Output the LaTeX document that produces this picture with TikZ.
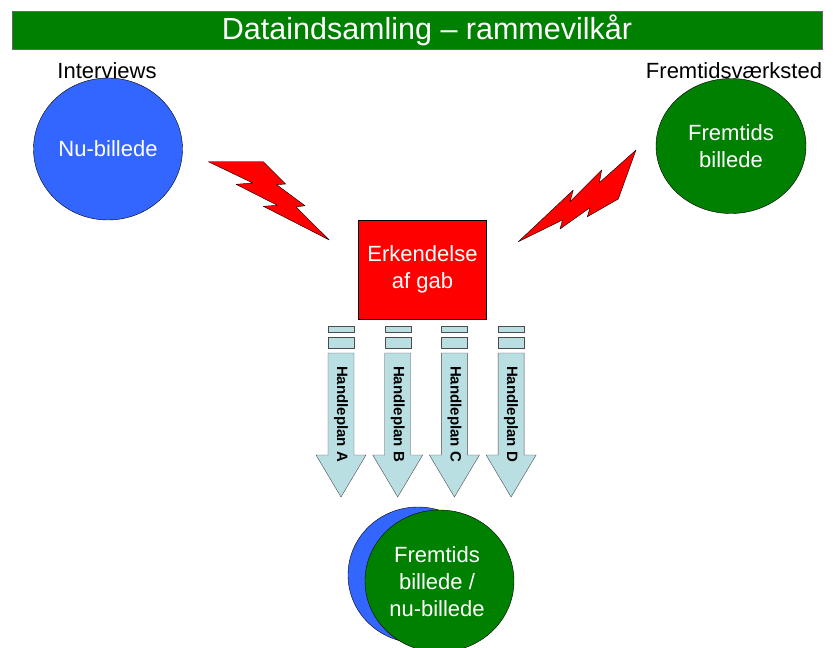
\documentclass[tikz,border=0pt]{standalone}
\usepackage{fontspec}
\setmainfont{Liberation Sans}
\usetikzlibrary{shapes.geometric}
\definecolor{nublue}{HTML}{3366FF}
\definecolor{futgreen}{HTML}{008000}
\definecolor{gabred}{HTML}{FF0000}
\definecolor{planfill}{HTML}{B9DFE3}
\begin{document}
\begin{tikzpicture}[x=1pt,y=-1pt,
    lbl/.style={font=\fontsize{22}{27}\selectfont, align=center, inner sep=0},
    blob/.style={ellipse, draw=black, thin, inner sep=0, lbl, text=white},
    bolt/.style={fill=gabred, draw=black, thin, line join=round},
    planbar/.style={fill=planfill, draw=black!70, thin},
    planlbl/.style={font=\fontsize{15}{18}\selectfont\bfseries, inner sep=0}]
    \useasboundingbox (0,0) rectangle (833,648);

    % heading
    \node[fill=futgreen, draw=black!60, minimum width=810, minimum height=38, inner sep=0] (bar) at (417,30) {};
    \node[lbl, text=white, font=\fontsize{30.5}{33}\selectfont] (title) at (427,30) {Dataindsamling -- rammevilkår};

    % the two pictures
    \node[lbl] (intv) at (107,71) {Interviews};
    \node[blob, fill=nublue, minimum width=149, minimum height=142] (nu) at (108,149) {Nu-billede};
    \node[lbl] (vaerk) at (734,71) {Fremtidsværksted};
    \node[blob, fill=futgreen, minimum width=150, minimum height=135] (frem) at (731,146) {Fremtids\\billede};

    % lightning
    \draw[bolt] (208.3,161.7) -- (263.3,161.7) -- (285.7,184) -- (276.7,184.7) -- (305,205.7)
      -- (296,207) -- (329.3,240) -- (263.3,206.3) -- (277.3,205.3) -- (236,184.3) -- (252.7,183) -- cycle;
    \draw[bolt] (518.3,241.7) -- (573.3,190) -- (570,201.7) -- (601.7,170) -- (599.3,182.7) -- (636,150)
      -- (618.3,199) -- (587.3,216.7) -- (590,207.7) -- (560,229) -- (562.5,220) -- cycle;

    \node[draw=black, thin, fill=gabred, minimum width=128, minimum height=99, inner sep=0, lbl, text=white] (gab) at (422.5,269.7) {Erkendelse\\af gab};

    % action plans
    \foreach [count=\i] \plan in {A, B, C, D} {
      \pgfmathsetmacro\cx{341+56.7*(\i-1)}
      \draw[planbar] ({\cx-13},326) rectangle ({\cx+13},332);
      \draw[planbar] ({\cx-13},337) rectangle ({\cx+13},348);
      \draw[planbar] ({\cx-13},353) -- ({\cx+13},353) -- ({\cx+13},455) -- ({\cx+25},455)
        -- (\cx,497) -- ({\cx-25},455) -- ({\cx-13},455) -- cycle;
      \node[planlbl, rotate=-90] (plan\plan) at (\cx,414) {Handleplan \plan};
    }

    % combined picture
    \node[blob, fill=nublue, minimum width=140, minimum height=136] (nu2) at (418,575) {};
    \node[blob, fill=futgreen, minimum width=149, minimum height=142] (frem2) at (439.5,581) {};
    \node[lbl, text=white] (both) at (437,582) {Fremtids\\billede /\\nu-billede};
\end{tikzpicture}
\end{document}
